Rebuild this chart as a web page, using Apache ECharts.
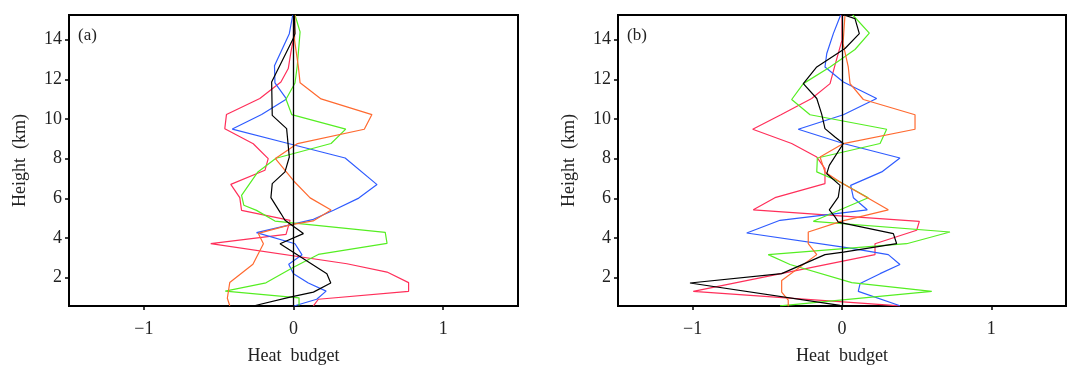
<!DOCTYPE html>
<html>
<head>
<meta charset="utf-8">
<title>Heat budget</title>
<script src="https://cdn.jsdelivr.net/npm/echarts@6/dist/echarts.min.js"></script>
<style>
    html, body { margin: 0; padding: 0; background: #fff; }
    #chart { width: 1078px; height: 380px; }
</style>
</head>
<body>
<div id="chart"></div>
<script>
// 刻度
var xTicks = [-1, 0, 1];
var yTicks = [2, 4, 6, 8, 10, 12, 14];
var panelNames = ['(a)', '(b)'];

// (a) 各廓线 [heat budget, height]
var aBlack = [[0.005, 15.24], [0.01, 14.30], [-0.005, 14.0], [-0.146, 11.86], [-0.142, 10.18], [-0.046, 9.51],
    [-0.028, 8.08], [-0.057, 7.33], [-0.142, 6.74], [-0.151, 6.03], [-0.084, 5.23], [-0.057, 4.89],
    [0.066, 4.22], [-0.09, 3.71], [0.223, 2.2], [0.249, 1.73], [0.133, 1.27], [-0.023, 1.02], [-0.269, 0.57]];
var aRed = [[0, 15.24], [0, 14.05], [-0.017, 13.38], [-0.035, 12.54], [-0.084, 11.86], [-0.225, 11.03],
    [-0.448, 10.22], [-0.459, 9.51], [-0.269, 8.75], [-0.169, 8.0], [-0.191, 7.41], [-0.419, 6.70],
    [-0.359, 6.03], [-0.347, 5.39], [-0.023, 4.89], [-0.05, 4.18], [-0.553, 3.71], [0.357, 2.7],
    [0.625, 2.28], [0.769, 1.75], [0.769, 1.31], [0.166, 0.91], [0.133, 0.58]];
var aBlue = [[-0.005, 15.24], [-0.028, 14.30], [-0.127, 12.68], [-0.124, 11.82], [-0.046, 11.0], [-0.213, 10.22],
    [-0.409, 9.49], [-0.035, 8.76], [0.345, 8.03], [0.558, 6.69], [0.436, 6.01], [0.271, 5.41],
    [0.133, 4.94], [-0.247, 4.27], [0.01, 3.71], [0.057, 3.15], [-0.032, 2.68], [0, 2.2],
    [0.099, 1.73], [0.218, 1.32], [0.155, 0.91], [0.003, 0.57]];
var aGreen = [[0.01, 15.24], [0.044, 14.39], [0.025, 12.67], [0.01, 11.81], [-0.05, 10.99], [-0.012, 10.22],
    [0.349, 9.49], [0.251, 8.76], [-0.117, 8.02], [-0.238, 7.33], [-0.347, 6.15], [-0.332, 5.65],
    [-0.247, 5.39], [-0.124, 4.85], [0.613, 4.28], [0.625, 3.73], [0.166, 3.17], [0, 2.52],
    [-0.184, 1.74], [-0.456, 1.32], [0.037, 0.98], [0.037, 0.6]];
var aOrange = [[0.01, 15.24], [0.007, 13.97], [0.032, 12.66], [0.044, 11.82], [0.184, 11.01], [0.524, 10.22],
    [0.473, 9.48], [0.027, 8.76], [-0.121, 8.0], [0.003, 6.86], [0.111, 6.02], [0.251, 5.41],
    [0.131, 4.86], [-0.023, 4.66], [-0.235, 4.23], [-0.201, 3.71], [-0.271, 2.67], [-0.426, 1.75],
    [-0.442, 0.96], [-0.426, 0.58]];

// (b) 各廓线
var bBlack = [[0.013, 15.24], [0.087, 15.06], [0.116, 14.30], [0.02, 13.55], [-0.169, 12.62], [-0.259, 11.78],
    [-0.169, 11.03], [-0.136, 10.24], [-0.114, 9.51], [-0.047, 9.09], [0.009, 8.76], [-0.085, 7.66],
    [-0.102, 7.24], [-0.013, 6.65], [-0.025, 6.06], [-0.085, 5.42], [-0.047, 5.06], [-0.025, 4.80],
    [0.344, 4.22], [0.366, 3.71], [0.009, 3.29], [-0.114, 3.16], [-0.404, 2.2], [-1.018, 1.73], [-0.013, 0.6]];
var bRed = [[0, 15.24], [0, 13.97], [-0.047, 12.71], [-0.08, 11.78], [-0.203, 11.03], [-0.409, 10.21],
    [-0.598, 9.48], [-0.337, 8.76], [-0.169, 8.08], [-0.114, 7.5], [-0.114, 6.74], [-0.449, 6.03],
    [-0.594, 5.42], [0.518, 4.84], [0.5, 4.39], [0.221, 3.71], [0.221, 3.16], [-0.996, 1.31], [0.388, 0.58]];
var bBlue = [[-0.009, 15.24], [-0.058, 14.30], [-0.102, 13.30], [-0.114, 12.62], [0.009, 11.86], [0.232, 11.03],
    [0.009, 10.21], [-0.293, 9.48], [0.009, 8.76], [0.388, 8.03], [0.266, 7.33], [0.058, 6.65],
    [0.076, 6.03], [0.169, 5.42], [-0.415, 4.89], [-0.638, 4.25], [0.054, 3.49], [0.31, 3.16],
    [0.388, 2.66], [0.255, 2.2], [0.121, 1.70], [0.109, 1.31], [0.388, 0.58]];
var bGreen = [[0.072, 15.24], [0.183, 14.33], [0.087, 13.50], [-0.08, 12.62], [-0.259, 11.78], [-0.337, 10.98],
    [-0.214, 10.21], [0.299, 9.48], [0.255, 8.76], [-0.165, 8.03], [-0.169, 7.33], [-0.013, 6.82],
    [0.176, 6.03], [-0.192, 4.84], [0.723, 4.30], [0.433, 3.71], [-0.494, 3.16], [-0.348, 2.66],
    [0.065, 1.75], [0.601, 1.31], [-0.415, 0.58]];
var bOrange = [[0.02, 15.24], [0.007, 13.8], [0.042, 12.62], [0.054, 11.78], [0.143, 10.98], [0.489, 10.21],
    [0.489, 9.48], [0.009, 8.76], [-0.147, 8.08], [-0.114, 7.33], [-0.013, 6.82], [0.31, 5.42],
    [-0.002, 4.85], [-0.226, 4.30], [-0.226, 3.71], [-0.169, 3.16], [-0.404, 1.86], [-0.404, 1.27],
    [-0.36, 0.86], [-0.36, 0.55]];

var panels = [
    [aRed, aBlue, aGreen, aOrange, aBlack],
    [bRed, bBlue, bGreen, bOrange, bBlack]
];
var colors = ['#ff2f5a', '#2f5cff', '#55ee22', '#ff6a30', '#000000'];

var cFont = '"Liberation Serif", "Times New Roman", serif';

var oChart = echarts.init(document.getElementById('chart'));

var grids = [
    { left: 69, top: 15, width: 449, height: 291 },
    { left: 618, top: 15, width: 448, height: 291 }
];

var xAxes = [], yAxes = [], series = [], graphics = [];

for (var i = 0; i < 2; i++) {
    grids[i].show = true;
    grids[i].borderColor = '#000';
    grids[i].borderWidth = 2;

    xAxes.push({
        type: 'value', gridIndex: i, min: -1.5, max: 1.5,
        name: 'Heat  budget', nameLocation: 'middle', nameGap: 41,
        nameTextStyle: { fontFamily: cFont, fontSize: 18, color: '#222' },
        axisLine: { show: true, onZero: false, lineStyle: { color: '#000', width: 2 } },
        axisTick: { show: true, inside: false, length: 4, customValues: xTicks, lineStyle: { color: '#000', width: 1.5 } },
        axisLabel: {
            customValues: xTicks, margin: 14, fontFamily: cFont, fontSize: 18, color: '#222',
            formatter: function (v) { return v < 0 ? '\u2212' + Math.abs(v) : String(v); }
        },
        splitLine: { show: false }
    });

    yAxes.push({
        type: 'value', gridIndex: i, min: 0.57, max: 15.24,
        name: 'Height  (km)', nameLocation: 'middle', nameGap: 40,
        nameTextStyle: { fontFamily: cFont, fontSize: 18, color: '#222' },
        axisLine: { show: true, onZero: false, lineStyle: { color: '#000', width: 2 } },
        axisTick: { show: true, inside: false, length: 4, customValues: yTicks, lineStyle: { color: '#000', width: 1.5 } },
        axisLabel: { customValues: yTicks, margin: 7, fontFamily: cFont, fontSize: 18, color: '#222' },
        splitLine: { show: false }
    });

    // 每条廓线
    for (var j = 0; j < panels[i].length; j++) {
        var oSeries = {
            type: 'line', xAxisIndex: i, yAxisIndex: i,
            data: panels[i][j], showSymbol: false, symbol: 'none',
            lineStyle: { color: colors[j], width: 1.2 },
            silent: true, animation: false
        };
        // 零线
        if (j === 0) {
            oSeries.markLine = {
                silent: true, symbol: 'none', label: { show: false },
                lineStyle: { color: '#000', width: 1.3, type: 'solid' },
                data: [{ xAxis: 0 }]
            };
        }
        series.push(oSeries);
    }

    graphics.push({
        type: 'text', left: grids[i].left + 9, top: 27,
        style: { text: panelNames[i], font: '17px ' + cFont, fill: '#222' }
    });
}

oChart.setOption({
    animation: false,
    grid: grids,
    xAxis: xAxes,
    yAxis: yAxes,
    series: series,
    graphic: graphics
});
</script>
</body>
</html>
